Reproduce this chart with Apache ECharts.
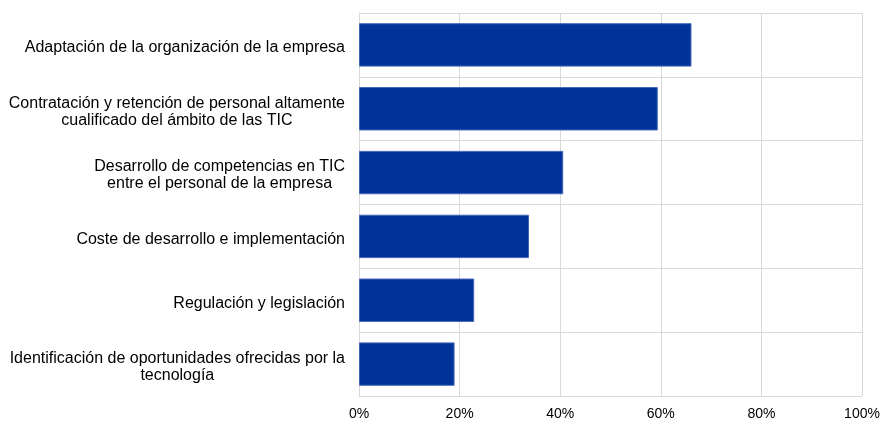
<!DOCTYPE html>
<html>
<head>
<meta charset="utf-8">
<script src="https://cdn.jsdelivr.net/npm/echarts@6/dist/echarts.min.js"></script>
<style>
  html, body { margin: 0; padding: 0; background: #ffffff; }
  #chart { width: 883px; height: 421px; }
</style>
</head>
<body>
<div id="chart"></div>
<script>
// Obstáculos señalados por las empresas (porcentaje), de arriba abajo
const categories = [
  'Adaptación de la organización de la empresa',
  'Contratación y retención de personal altamente\ncualificado del ámbito de las TIC',
  'Desarrollo de competencias en TIC\nentre el personal de la empresa',
  'Coste de desarrollo e implementación',
  'Regulación y legislación',
  'Identificación de oportunidades ofrecidas por la\ntecnología'
];
const values = [66.1, 59.4, 40.6, 33.8, 22.9, 19.0];
const xTicks = [0, 20, 40, 60, 80, 100];

const chart = echarts.init(document.getElementById('chart'), null, { renderer: 'canvas' });

const font = '"Liberation Sans", Arial, sans-serif';

chart.setOption({
  animation: false,
  backgroundColor: '#ffffff',
  grid: {
    left: 359, right: 21, top: 13, bottom: 25,
    containLabel: false,
    outerBoundsMode: 'none'
  },
  xAxis: {
    type: 'value',
    min: xTicks[0],
    max: xTicks[xTicks.length - 1],
    interval: xTicks[1] - xTicks[0],
    axisLine: { show: false },
    axisTick: { show: false },
    splitLine: { show: true, lineStyle: { color: '#d9d9d9', width: 1 } },
    axisLabel: {
      color: '#000000',
      fontFamily: font,
      fontSize: 14,
      margin: 11,
      formatter: v => v + '%'
    }
  },
  yAxis: {
    type: 'category',
    inverse: true,
    data: categories,
    axisLine: { show: true, lineStyle: { color: '#d9d9d9', width: 1 } },
    axisTick: { show: false },
    splitLine: { show: true, interval: 0, lineStyle: { color: '#d9d9d9', width: 1 } },
    axisLabel: {
      interval: 0,
      margin: 14,
      padding: [6, 0, 0, 0],
      color: '#000000',
      fontFamily: font,
      fontSize: 16,
      lineHeight: 17,
      formatter: v => v.split('\n').map(s => '{c|' + s + '}').join('\n'),
      rich: {
        c: { align: 'center', color: '#000000', fontFamily: font, fontSize: 16, lineHeight: 17 }
      }
    }
  },
  series: [{
    type: 'bar',
    data: values,
    barCategoryGap: '32%',
    itemStyle: { color: '#003399', borderColor: '#4466bb', borderWidth: 1 }
  }]
});
</script>
</body>
</html>
